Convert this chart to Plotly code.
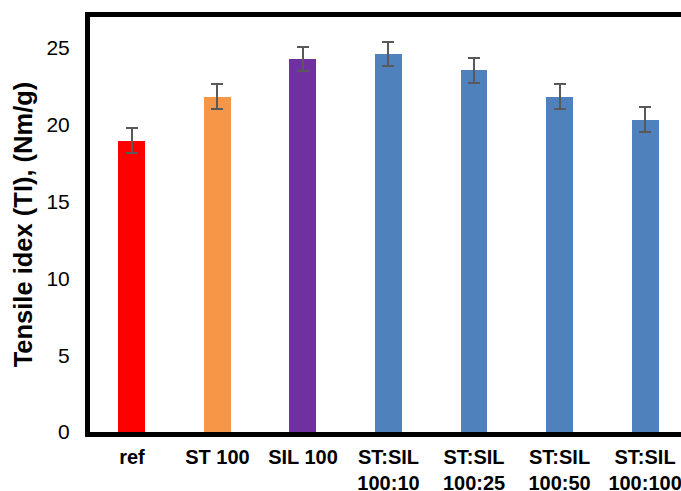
import plotly.graph_objects as go

categories = ["ref", "ST 100", "SIL 100", "ST:SIL<br>100:10", "ST:SIL<br>100:25", "ST:SIL<br>100:50", "ST:SIL<br>100:100"]
values = [18.95, 21.81, 24.28, 24.59, 23.52, 21.81, 20.32]
errors = [0.8, 0.8, 0.8, 0.8, 0.8, 0.8, 0.8]
colors = ["#FF0000", "#F79646", "#7030A0", "#4F81BD", "#4F81BD", "#4F81BD", "#4F81BD"]
y_ticks = [0, 5, 10, 15, 20, 25]
y_title = "Tensile idex (TI), (Nm/g)"

font_family = "Arial, Liberation Sans, sans-serif"

fig = go.Figure()
fig.add_trace(go.Bar(
    x=list(range(len(categories))),
    y=values,
    width=0.315,
    marker=dict(color=colors, line=dict(width=0)),
    error_y=dict(type="data", array=errors, visible=True, color="#595959", thickness=2, width=6),
))

fig.update_layout(
    width=681, height=491,
    margin=dict(l=89.5, r=0, t=17, b=58.5),
    paper_bgcolor="white", plot_bgcolor="white",
    showlegend=False,
    font=dict(family=font_family, color="black"),
    bargap=0,
)
fig.update_xaxes(
    range=[-0.49, 6.42],
    tickmode="array", tickvals=list(range(len(categories))), ticktext=[f"<b>{c}</b>" for c in categories],
    tickfont=dict(size=20, family=font_family, color="black"),
    showline=True, linecolor="black", linewidth=5, mirror=True,
    showgrid=False, zeroline=False, ticks="",
    ticklabelstandoff=3, ticklabeloverflow="allow", automargin=False,
)
fig.update_yaxes(
    range=[0, 27],
    tickmode="array", tickvals=y_ticks,
    tickfont=dict(size=21, family=font_family, color="black"),
    showline=True, linecolor="black", linewidth=5, mirror=False,
    showgrid=False, zeroline=False, ticks="",
    ticklabelstandoff=11, automargin=False,
    title=dict(text=f"<b>{y_title}</b>", font=dict(size=25.5, family=font_family, color="black"), standoff=8),
)

fig.write_html(
    "out.html",
    config={"displayModeBar": False},
    post_script="document.body.style.margin='0';document.documentElement.style.overflow='hidden';document.body.style.overflow='hidden';",
)
